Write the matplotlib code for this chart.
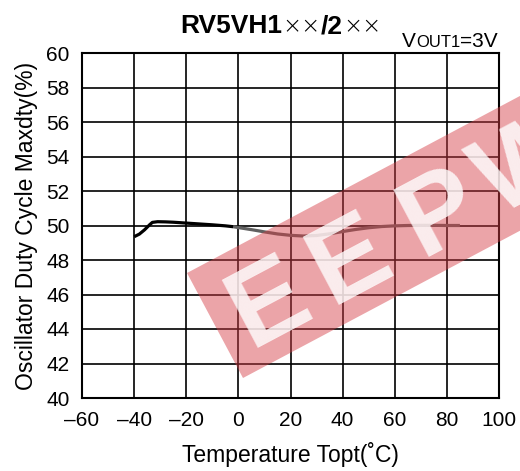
import matplotlib
matplotlib.use("Agg")
import matplotlib.pyplot as plt
from matplotlib.patches import Polygon
import numpy as np

plt.rcParams['font.family'] = ['Liberation Sans', 'DejaVu Sans']

# Duty cycle vs temperature (two traced segments of the same curve)
temp_a = [-40, -38, -36, -34, -33, -31, -28, -25, -20, -15, -10, -5, -2]
duty_a = [49.35, 49.5, 49.75, 50.05, 50.18, 50.22, 50.21, 50.19, 50.14, 50.09, 50.04, 49.98, 49.93]
temp_b = [-2, 0, 5, 10, 15, 20, 25, 30, 35, 40, 45, 50, 55, 60, 65, 70, 75, 80, 85]
duty_b = [49.93, 49.88, 49.76, 49.63, 49.51, 49.43, 49.39, 49.42, 49.52, 49.65, 49.77, 49.87, 49.94, 49.98, 50.0, 50.01, 50.01, 50.0, 50.0]

x_ticks = [-60, -40, -20, 0, 20, 40, 60, 80, 100]
x_labels = ['\u201360', '\u201340', '\u201320', '0', '20', '40', '60', '80', '100']
y_ticks = list(range(40, 61, 2))

W, H = 520, 471
fig = plt.figure(figsize=(W / 100, H / 100), dpi=100)


def fx(px):
    return px / W


def fy(py):
    return 1 - py / H


ax = fig.add_axes([fx(82), fy(398), (499 - 82) / W, (398 - 53) / H])

ax.plot(temp_a, duty_a, color='black', lw=2.3, solid_capstyle='butt', zorder=3)
ax.plot(temp_b, duty_b, color='#606060', lw=2.3, solid_capstyle='butt', zorder=3)

ax.set_xlim(-60, 100)
ax.set_ylim(40, 60)
ax.set_xticks(x_ticks)
ax.set_xticklabels(x_labels)
ax.set_yticks(y_ticks)
ax.grid(True, color='black', lw=1.2)
ax.set_axisbelow(True)
ax.tick_params(axis='x', length=0, labelsize=15, pad=9)
ax.tick_params(axis='y', length=0, labelsize=15, pad=9)
for s in ax.spines.values():
    s.set_linewidth(1.5)

ax.set_xlabel('Temperature Topt(\u02daC)', fontsize=16.5, labelpad=9)
ax.set_ylabel('Oscillator Duty Cycle Maxdty(%)', fontsize=16.5, labelpad=6)

renderer = fig.canvas.get_renderer()


def text_run(pieces, x_px, y_px, align='center'):
    """Lay out a row of differently styled pieces on one baseline."""
    objs = []
    for s, kw in pieces:
        objs.append(fig.text(0, fy(y_px), s, va='baseline', ha='left', **kw))
    widths = [t.get_window_extent(renderer).width for t in objs]
    total = sum(widths)
    if align == 'center':
        x = x_px - total / 2
    else:
        x = x_px - total
    for t, w in zip(objs, widths):
        t.set_x(fx(x))
        x += w


cross = dict(fontsize=16.5, family='DejaVu Sans', fontweight='light')
text_run([('RV5VH1', dict(fontsize=19, fontweight='bold')),
          ('\u00d7\u00d7', cross),
          ('/2', dict(fontsize=19, fontweight='bold')),
          ('\u00d7\u00d7', cross)], 281, 33, 'center')

text_run([('V', dict(fontsize=15)),
          ('OUT1', dict(fontsize=12)),
          ('=3V', dict(fontsize=15))], 498, 47, 'right')

# site watermark: tinted band with knocked-out lettering
ang = np.deg2rad(28)
d = np.array([np.cos(ang), -np.sin(ang)])
nrm = np.array([np.sin(ang), np.cos(ang)])
p0 = np.array([187.0, 273.0])
p1 = np.array([243.0, 378.0])
L = 480
band = [p0, p1, p1 + L * d, p0 + L * d]
fig.patches.append(Polygon([(fx(p[0]), fy(p[1])) for p in band], closed=True,
                           transform=fig.transFigure, facecolor='#d53e46',
                           edgecolor='none', alpha=0.47, zorder=10))
mid = (p0 + p1) / 2
size_pt = 80
cap = 0.716 * size_pt * 100 / 72
for ch, s in zip('EEPW', [58, 150, 252, 352]):
    c = mid + s * d - 3 * nrm + (cap / 2) * nrm
    fig.text(fx(c[0]), fy(c[1]), ch, rotation=28, rotation_mode='anchor',
             ha='center', va='baseline', fontsize=size_pt, fontweight='bold',
             color='white', alpha=0.8, zorder=11, clip_on=True)

fig.savefig('out.png', dpi=100)
